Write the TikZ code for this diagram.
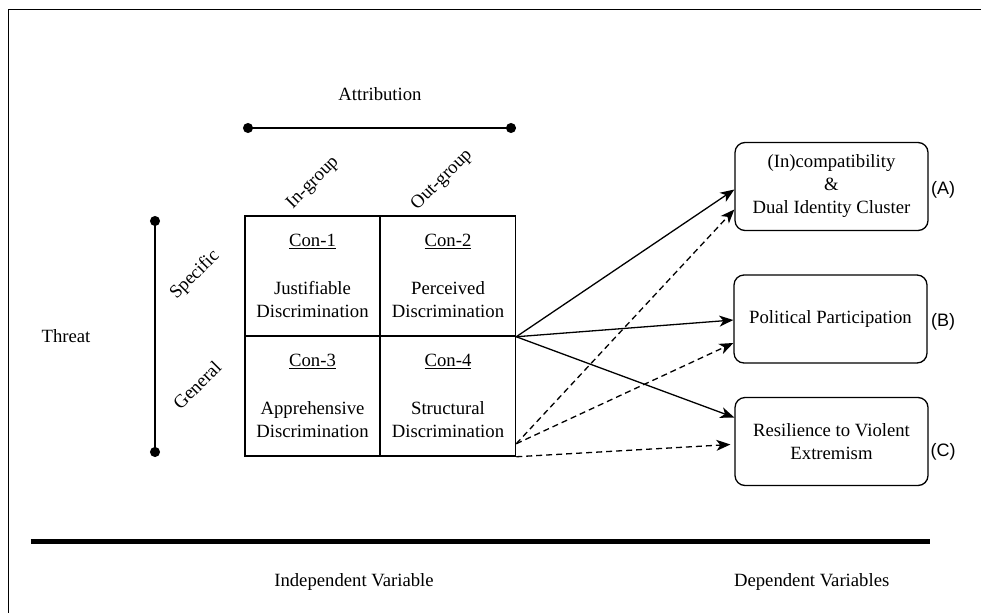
\documentclass[tikz,border=0pt]{standalone}
\usepackage{fontspec}
\setmainfont{Liberation Serif}
\newfontfamily\tagfont{Liberation Sans}
\usetikzlibrary{arrows.meta}

\begin{document}
\begin{tikzpicture}[x=1pt,y=-1pt,
		txt/.style={font=\fontsize{18.7}{23}\selectfont, inner sep=0pt, align=center},
		cell/.style={txt, draw, line width=1.5pt, minimum width=135pt, minimum height=120pt},
		dv/.style={txt, draw, line width=1.3pt, rounded corners=10pt, minimum width=193pt, minimum height=88pt},
		tag/.style={font=\tagfont\fontsize{18}{22}\selectfont, inner sep=0pt},
		bar/.style={line width=1.3pt, {Circle[length=10pt]}-{Circle[length=10pt]}},
		link/.style={line width=1.3pt, -{Stealth[length=14pt,width=11pt,inset=4pt]}},
		dlink/.style={link, dash pattern=on 6pt off 4pt}]
		\useasboundingbox (0,0) rectangle (981,613);
		\draw[line width=1.8pt] (981,9.5) -- (8.5,9.5) -- (8.5,613);
		\coordinate (attrL) at (243,128);
		\coordinate (attrR) at (516,128);
		\coordinate (thrT) at (155,216);
		\coordinate (thrB) at (155,457);
		\draw[bar] (attrL) -- (attrR);
		\draw[bar] (thrT) -- (thrB);
		\node[txt] (attr) at (380,94) {Attribution};
		\node[txt] (threat) at (66,336) {Threat};
		\node[txt, rotate=45] (ingrp) at (313,183) {In-group};
		\node[txt, rotate=45] (outgrp) at (442,180) {Out-group};
		\node[txt, rotate=45] (spec) at (195,275) {Specific};
		\node[txt, rotate=45] (gen) at (197,385) {General};
		\node[cell] (c1) at (312.5,276) {\underline{Con-1}\\[25pt]Justifiable\\Discrimination};
		\node[cell] (c2) at (448,276) {\underline{Con-2}\\[25pt]Perceived\\Discrimination};
		\node[cell] (c3) at (312.5,396) {\underline{Con-3}\\[25pt]Apprehensive\\Discrimination};
		\node[cell] (c4) at (448,396) {\underline{Con-4}\\[25pt]Structural\\Discrimination};
		\node[dv] (dvA) at (831.5,186.5) {(In)compatibility\\\&\\Dual Identity Cluster};
		\node[dv] (dvB) at (830.5,319) {Political Participation};
		\node[dv] (dvC) at (831.5,441.5) {Resilience to Violent\\Extremism};
		\node[tag] (tagA) at (943,190) {(A)};
		\node[tag] (tagB) at (943,322) {(B)};
		\node[tag] (tagC) at (943,452) {(C)};
		\draw[link] (c2.south east) -- ([yshift=-3pt]dvA.west);
		\draw[link] (c2.south east) -- ([yshift=-1pt]dvB.west);
		\draw[link] (c2.south east) -- ([yshift=24pt]dvC.west);
		\draw[dlink] ([yshift=13pt]c4.south east) -- ([yshift=-23pt]dvA.west);
		\draw[dlink] ([yshift=13pt]c4.south east) -- ([yshift=-24pt]dvB.west);
		\draw[dlink] (c4.south east) -- ([yshift=-3pt,xshift=-4pt]dvC.west);
		\draw[line width=5pt] (30.7,541.7) -- (930,541.7);
		\node[txt] (indep) at (354,581.7) {Independent Variable};
		\node[txt] (dep) at (811.7,581.7) {Dependent Variables};
		\end{tikzpicture}
\end{document}
